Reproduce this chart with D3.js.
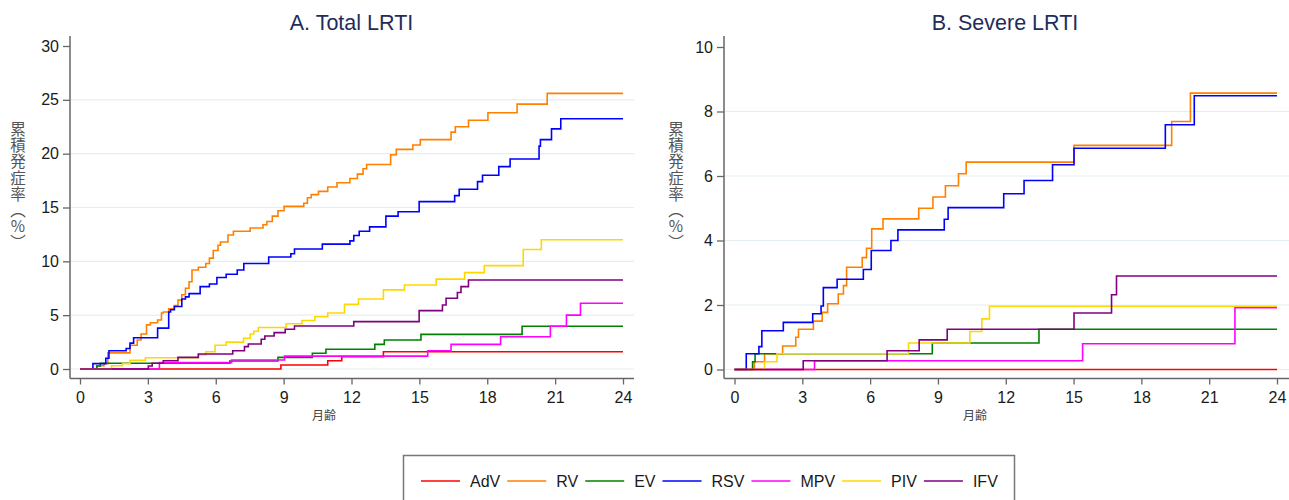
<!DOCTYPE html>
<html><head><meta charset="utf-8">
<script src="https://cdn.jsdelivr.net/npm/d3@7"></script>
<style>body{margin:0;background:#fff}svg{display:block;font-family:"Liberation Sans",Arial,sans-serif}</style>
</head><body><svg id="c" width="1289" height="500"></svg>
<script>
const seriesNames = ["AdV","RV","EV","RSV","MPV","PIV","IFV"];
const seriesColors = ["#ff0000","#ff8000","#008000","#0000ff","#ff00ff","#ffd700","#800080"];
const monthTicks = [0,3,6,9,12,15,18,21,24];
const totalTicks = [0,5,10,15,20,25,30];
const severeTicks = [0,2,4,6,8,10];
const panelTitles = ["A. Total LRTI","B. Severe LRTI"];
const xTitle = "月齢";
const yTitle = "累積発症率（%）";

// [month, cumulative incidence %]
const total_AdV = [[0,0],[8.88,0.37],[10.95,0.77],[11.57,1.15],[13.41,1.6],[24,1.6]];
const total_RV = [[0,0],[0.74,0.3],[1.06,0.5],[1.23,1.5],[2.21,2.2],[2.53,2.7],[2.70,3.25],[2.94,4.1],[3.11,4.3],[3.43,4.55],[3.60,5.2],[3.68,5.3],[3.92,5.6],[4.17,5.9],[4.33,6.4],[4.50,6.9],[4.66,7.5],[4.82,8.1],[4.95,9.2],[5.23,9.45],[5.56,9.8],[5.72,10.3],[5.89,11.0],[6.10,11.5],[6.21,11.8],[6.54,12.45],[6.78,12.8],[7.52,13.1],[8.09,13.4],[8.26,13.7],[8.50,14.2],[8.75,14.7],[9.02,15.1],[9.89,15.4],[10.05,15.9],[10.22,16.2],[10.54,16.5],[10.95,16.9],[11.36,17.3],[11.93,17.7],[12.26,18.1],[12.51,18.6],[12.67,19.0],[13.73,19.9],[13.98,20.4],[14.71,20.8],[15.04,21.3],[16.40,22.0],[16.59,22.5],[17.17,23.1],[18.03,23.8],[19.32,24.6],[20.65,25.6],[24,25.6]];
const total_EV = [[0,0],[0.74,0.28],[0.9,0.53],[6.62,0.74],[8.75,1.08],[10.27,1.46],[10.87,1.83],[13.03,2.29],[13.45,2.7],[15.07,3.22],[19.54,3.97],[24,3.97]];
const total_RSV = [[0,0],[0.57,0.5],[1.14,1.0],[1.28,1.7],[2.04,1.9],[2.21,2.4],[2.37,2.9],[3.43,3.8],[3.92,5.3],[4.0,5.5],[4.17,5.8],[4.50,6.5],[4.66,6.7],[4.82,7.0],[5.31,7.65],[5.72,7.9],[6.05,8.5],[6.46,8.8],[6.95,9.2],[7.24,9.8],[8.34,10.4],[9.32,10.7],[9.48,11.15],[10.71,11.6],[11.93,11.9],[12.10,12.4],[12.34,12.8],[12.80,13.2],[13.52,14.2],[14.06,14.6],[14.99,15.55],[16.56,16.1],[16.76,16.7],[17.57,17.4],[17.79,18.0],[18.51,18.8],[19.01,19.5],[20.29,20.7],[20.35,21.3],[20.84,22.3],[21.25,23.25],[24,23.25]];
const total_MPV = [[0,0],[3.51,0.59],[6.70,0.84],[9.04,1.2],[15.37,1.7],[16.40,2.29],[18.59,3.0],[20.79,3.97],[21.50,5.0],[22.12,6.1],[24,6.1]];
const total_PIV = [[0,0],[1.39,0.3],[1.88,0.5],[2.21,0.8],[2.89,1.05],[5.23,1.3],[5.56,1.6],[5.97,2.2],[6.46,2.5],[7.23,2.85],[7.52,3.25],[7.68,3.5],[7.88,3.85],[9.11,4.2],[9.81,4.5],[10.38,4.85],[10.95,5.2],[11.69,6.0],[12.31,6.5],[13.41,7.35],[14.34,7.8],[15.74,8.35],[17.0,8.95],[17.87,9.6],[19.59,11.1],[20.39,12.0],[24,12.0]];
const total_IFV = [[0,0],[3.02,0.28],[3.19,0.53],[3.68,0.77],[4.33,1.08],[5.23,1.39],[6.75,1.7],[7.27,2.08],[7.44,2.32],[8.01,2.76],[8.17,3.07],[8.58,3.38],[9.07,3.69],[9.48,4.0],[12.10,4.4],[14.99,5.42],[16.02,5.95],[16.18,6.57],[16.68,7.1],[16.84,7.65],[17.17,8.27],[24,8.27]];

const severe_AdV = [[0,0],[24,0]];
const severe_RV = [[0,0],[0.88,0.24],[1.33,0.49],[2.13,0.73],[2.71,1.0],[2.83,1.25],[3.49,1.5],[3.88,1.77],[4.12,2.04],[4.59,2.34],[4.82,2.6],[4.96,3.17],[5.65,3.47],[5.84,3.76],[6.07,4.36],[6.57,4.67],[8.15,5.0],[8.78,5.35],[9.33,5.7],[9.91,6.07],[10.25,6.43],[15.02,6.95],[19.34,7.69],[20.17,8.57],[24,8.57]];
const severe_EV = [[0,0],[0.80,0.24],[0.91,0.49],[8.75,0.82],[13.47,1.25],[24,1.25]];
const severe_RSV = [[0,0],[0.52,0.49],[1.08,0.71],[1.21,1.2],[2.16,1.46],[3.46,1.73],[3.83,1.97],[3.93,2.54],[4.54,2.8],[5.70,3.1],[6.05,3.69],[6.92,4.0],[7.23,4.33],[9.28,4.66],[9.45,5.02],[11.91,5.45],[12.81,5.86],[14.07,6.35],[15.02,6.86],[19.06,7.59],[20.34,8.49],[24,8.49]];
const severe_MPV = [[0,0],[3.54,0.27],[15.40,0.8],[22.14,1.92],[24,1.92]];
const severe_PIV = [[0,0],[1.33,0.24],[1.88,0.49],[7.70,0.82],[10.41,1.18],[10.94,1.57],[11.28,1.96],[24,1.96]];
const severe_IFV = [[0,0],[3.04,0.27],[6.75,0.58],[8.17,0.92],[9.41,1.25],[15.02,1.75],[16.68,2.32],[16.90,2.9],[24,2.9]];

const totalSeries = [total_AdV,total_RV,total_EV,total_RSV,total_MPV,total_PIV,total_IFV];
const severeSeries = [severe_AdV,severe_RV,severe_EV,severe_RSV,severe_MPV,severe_PIV,severe_IFV];

const svg = d3.select("#c");

function drawPanel(o) {
  const g = svg.append("g");
  const x = d3.scaleLinear().domain([0,24]).range([o.x0, o.x1]);
  const y = d3.scaleLinear().domain([0, o.yMax]).range([o.y0, o.y1]);
  // gridlines
  g.append("g").selectAll("line").data(o.ticks.filter(t => t < o.yMax)).join("line")
    .attr("x1", o.axisX + 1).attr("x2", o.gridEnd)
    .attr("y1", d => y(d)).attr("y2", d => y(d))
    .attr("stroke", "#e4edf1").attr("stroke-width", 1.2);
  // y axis
  const ya = g.append("g").attr("transform", `translate(${o.axisX},0)`)
    .call(d3.axisLeft(y).tickValues(o.ticks).tickSize(7).tickPadding(4).tickSizeOuter(0));
  ya.select(".domain").remove();
  // x axis
  const xa = g.append("g").attr("transform", `translate(0,${o.axisY})`)
    .call(d3.axisBottom(x).tickValues(monthTicks).tickSize(6).tickPadding(7).tickSizeOuter(0));
  xa.select(".domain").remove();
  [ya, xa].forEach(a => {
    a.selectAll("text").attr("font-size", 16).attr("fill", "#1a1a1a")
      .attr("font-family", '"Liberation Sans",Arial,sans-serif');
    a.selectAll(".tick line").attr("stroke", "#666").attr("stroke-width", 1.3);
  });
  g.append("line").attr("x1", o.axisX).attr("x2", o.axisX).attr("y1", o.axisTop).attr("y2", o.axisY)
    .attr("stroke", "#666").attr("stroke-width", 1.5);
  g.append("line").attr("x1", o.axisX).attr("x2", o.gridEnd).attr("y1", o.axisY).attr("y2", o.axisY)
    .attr("stroke", "#666").attr("stroke-width", 1.5);
  // lines
  const line = d3.line().x(d => x(d[0])).y(d => y(d[1])).curve(d3.curveStepAfter);
  o.series.forEach((s, i) => {
    g.append("path").datum(s).attr("d", line).attr("fill", "none")
      .attr("stroke", seriesColors[i]).attr("stroke-width", 1.6);
  });
  // title
  g.append("text").attr("x", o.titleX).attr("y", 30).attr("text-anchor", "middle")
    .attr("font-size", 21.5).attr("fill", "#1f2d5c").text(o.title);
  // x title
  g.append("text").attr("x", o.xTitleX).attr("y", 417).attr("text-anchor", "middle")
    .attr("dominant-baseline", "middle").attr("font-size", 12).attr("fill", "#444")
    .attr("font-family", '"Noto Sans CJK JP",sans-serif').text(xTitle);
  // y title (vertical)
  g.append("text").attr("x", o.yTitleX).attr("y", 186).attr("text-anchor", "middle")
    .attr("font-size", 15.5).attr("fill", "#555").attr("letter-spacing", 0.6)
    .attr("font-family", '"Noto Sans CJK JP",sans-serif')
    .style("writing-mode", "vertical-rl").style("text-orientation", "upright")
    .text(yTitle);
}

drawPanel({x0: 80, x1: 623, axisX: 70, gridEnd: 634, y0: 369, y1: 46, yMax: 30, ticks: totalTicks,
  axisY: 378.5, axisTop: 36, series: totalSeries, title: panelTitles[0], titleX: 351.5, xTitleX: 324, yTitleX: 18});
drawPanel({x0: 734.5, x1: 1277, axisX: 724, gridEnd: 1289, y0: 369.5, y1: 47, yMax: 10, ticks: severeTicks,
  axisY: 378.5, axisTop: 36, series: severeSeries, title: panelTitles[1], titleX: 1005, xTitleX: 975, yTitleX: 676});

// legend
const lg = svg.append("g");
lg.append("rect").attr("x", 403.5).attr("y", 455.5).attr("width", 611).attr("height", 70)
  .attr("fill", "#fff").attr("stroke", "#777").attr("stroke-width", 1.5);
let lx = 421;
seriesNames.forEach((n, i) => {
  lg.append("line").attr("x1", lx).attr("x2", lx + 39).attr("y1", 481).attr("y2", 481)
    .attr("stroke", seriesColors[i]).attr("stroke-width", 1.6);
  const t = lg.append("text").attr("x", lx + 49).attr("y", 481).attr("dominant-baseline", "central")
    .attr("font-size", 16).attr("fill", "#1a1a1a").text(n);
  lx = lx + 49 + t.node().getComputedTextLength() + 7;
});
</script></body></html>
